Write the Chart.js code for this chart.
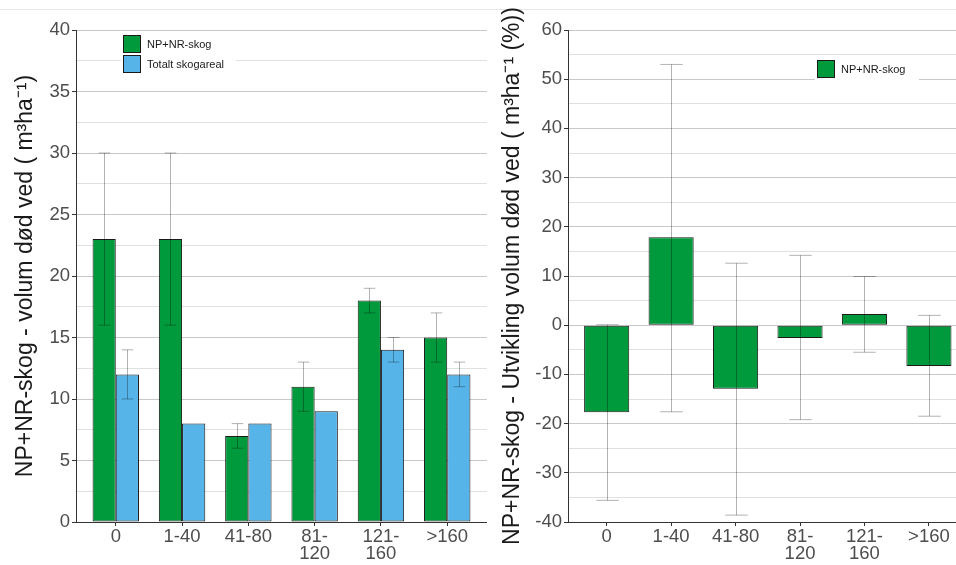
<!DOCTYPE html>
<html>
<head>
<meta charset="utf-8">
<script src="https://cdn.jsdelivr.net/npm/chart.js@4/dist/chart.umd.min.js"></script>
<style>
  html, body { margin:0; padding:0; background:#fff; }
  body { width:956px; height:565px; position:relative; overflow:hidden; font-family:"Liberation Sans", Arial, sans-serif; }
  #topline { position:absolute; left:0; top:9px; width:956px; height:1px; background:#e6e6e6; }
  #w1 { position:absolute; left:0; top:0; width:487px; height:565px; }
  #w2 { position:absolute; left:487px; top:0; width:469px; height:565px; }
</style>
</head>
<body>
<div id="topline"></div>
<div id="w1"><canvas id="c1"></canvas></div>
<div id="w2"><canvas id="c2"></canvas></div>
<script>
// ---- data ----
const tickLabels = ['0', '1-40', '41-80', ['81-', '120'], ['121-', '160'], '>160'];
const npnrVolume = [23, 23, 7, 11, 18, 15];
const npnrLow    = [16, 16, 6, 9, 17, 13];
const npnrHigh   = [30, 30, 8, 13, 19, 17];
const totalVolume = [12, 8, 8, 9, 14, 12];
const totalLow    = [10, null, null, null, 13, 11];
const totalHigh   = [14, null, null, null, 15, 13];
const changePct  = [-17.7, 17.9, -12.9, -2.6, 2.3, -8.3];
const changeLow  = [-35.6, -17.6, -38.6, -19.2, -5.5, -18.5];
const changeHigh = [0.1, 53.0, 12.6, 14.2, 9.9, 2.0];
const seriesNames = ['NP+NR-skog', 'Totalt skogareal'];

const GREEN = '#009a3c';
const BLUE = '#56b4e9';
const FONT = '"Liberation Sans", Arial, sans-serif';

const toXY = arr => arr.map((v, i) => ({ x: i, y: v }));

const errorBars = {
  id: 'errorBars',
  afterDatasetsDraw(chart) {
    const ctx = chart.ctx;
    const ys = chart.scales.y;
    chart.data.datasets.forEach((ds, di) => {
      if (!ds.errLow) return;
      const meta = chart.getDatasetMeta(di);
      meta.data.forEach((bar, i) => {
        const lo = ds.errLow[i], hi = ds.errHigh[i];
        if (lo == null || hi == null) return;
        const x = Math.round(bar.x) + 0.5, hw = bar.width / 4;
        const y1 = ys.getPixelForValue(lo), y2 = ys.getPixelForValue(hi);
        ctx.save();
        ctx.strokeStyle = 'rgba(0,0,0,0.3)';
        ctx.lineWidth = 1;
        ctx.beginPath();
        ctx.moveTo(x, y1); ctx.lineTo(x, y2);
        ctx.moveTo(x - hw, y1); ctx.lineTo(x + hw, y1);
        ctx.moveTo(x - hw, y2); ctx.lineTo(x + hw, y2);
        ctx.stroke();
        ctx.restore();
      });
    });
  }
};

const insetLegend = {
  id: 'insetLegend',
  afterDraw(chart, args, opts) {
    const ctx = chart.ctx;
    ctx.save();
    ctx.fillStyle = '#fff';
    ctx.fillRect(opts.bg[0], opts.bg[1], opts.bg[2], opts.bg[3]);
    chart.data.datasets.forEach((ds, i) => {
      const bx = opts.x, by = opts.y + i * 20;
      ctx.fillStyle = ds.backgroundColor;
      ctx.fillRect(bx, by, 18, 18);
      ctx.strokeStyle = '#1a1a1a';
      ctx.lineWidth = 1;
      ctx.strokeRect(bx + 0.5, by + 0.5, 17, 17);
      ctx.fillStyle = '#1a1a1a';
      ctx.font = '11px ' + FONT;
      ctx.textBaseline = 'middle';
      ctx.textAlign = 'left';
      ctx.fillText(ds.label, bx + 24, by + 9.5);
    });
    ctx.restore();
  }
};

function makeOptions(cfg) {
  return {
    responsive: true,
    maintainAspectRatio: false,
    animation: false,
    layout: { padding: { top: 30, right: 0, bottom: 0, left: 0 } },
    plugins: {
      legend: { display: false },
      tooltip: { enabled: false },
      insetLegend: cfg.legend
    },
    scales: {
      x: {
        type: 'linear',
        min: -0.6,
        max: cfg.xmax,
        offset: false,
        afterBuildTicks: axis => { axis.ticks = tickLabels.map((_, i) => ({ value: i })); },
        afterFit: s => { s.height = 43; },
        grid: { offset: false, drawOnChartArea: false, drawTicks: true, tickLength: 4, tickColor: '#333' },
        border: { display: true, color: '#333', width: 1 },
        ticks: {
          autoSkip: false, maxRotation: 0, minRotation: 0, padding: 2,
          color: '#4d4d4d',
          font: { family: FONT, size: 18.5, lineHeight: 0.95 },
          callback: (v) => tickLabels[Math.round(v)]
        }
      },
      y: {
        min: cfg.ymin,
        max: cfg.ymax,
        afterFit: s => { s.width = cfg.yWidth; },
        afterBuildTicks: axis => {
          const t = [];
          for (let v = cfg.ymin; v <= cfg.ymax + 1e-9; v += cfg.minor) t.push({ value: v });
          axis.ticks = t;
        },
        grid: {
          color: c => (Math.abs(c.tick.value % cfg.major) < 1e-6 ? '#c8c8c8' : '#e0e0e0'),
          lineWidth: 1,
          tickLength: 4,
          tickColor: c => (Math.abs(c.tick.value % cfg.major) < 1e-6 ? '#333' : 'rgba(0,0,0,0)')
        },
        border: { display: true, color: '#333', width: 1 },
        ticks: {
          padding: 2,
          color: '#4d4d4d',
          font: { family: FONT, size: 18.5 },
          autoSkip: false,
          callback: v => (Math.abs(v % cfg.major) < 1e-6 ? String(Math.round(v)) : '')
        },
        title: {
          display: true,
          text: cfg.title,
          color: '#1a1a1a',
          font: { family: FONT, size: 23, lineHeight: 1.2 },
          padding: { top: 12, bottom: 0 }
        }
      }
    }
  };
}

new Chart(document.getElementById('c1'), {
  type: 'bar',
  data: {
    datasets: [
      { label: seriesNames[0], data: toXY(npnrVolume), errLow: npnrLow, errHigh: npnrHigh,
        backgroundColor: GREEN, borderColor: '#1a1a1a', borderWidth: 1, borderSkipped: false,
        categoryPercentage: 0.7, barPercentage: 1.0 },
      { label: seriesNames[1], data: toXY(totalVolume), errLow: totalLow, errHigh: totalHigh,
        backgroundColor: BLUE, borderColor: '#1a1a1a', borderWidth: 1, borderSkipped: false,
        categoryPercentage: 0.7, barPercentage: 1.0 }
    ]
  },
  options: makeOptions({
    xmax: 5.6, ymin: 0, ymax: 40, minor: 2.5, major: 5, yWidth: 76,
    title: 'NP+NR-skog - volum død ved ( m³ha⁻¹)',
    legend: { x: 123, y: 35, bg: [121, 33, 115, 42] }
  }),
  plugins: [errorBars, insetLegend]
});

new Chart(document.getElementById('c2'), {
  type: 'bar',
  data: {
    datasets: [
      { label: seriesNames[0], data: toXY(changePct), errLow: changeLow, errHigh: changeHigh,
        backgroundColor: GREEN, borderColor: '#1a1a1a', borderWidth: 1, borderSkipped: false,
        categoryPercentage: 0.7, barPercentage: 1.0 }
    ]
  },
  options: makeOptions({
    xmax: 5.42, ymin: -40, ymax: 60, minor: 5, major: 10, yWidth: 81,
    title: 'NP+NR-skog - Utvikling volum død ved ( m³ha⁻¹ (%))',
    legend: { x: 330, y: 60, bg: [328, 57, 104, 24] }
  }),
  plugins: [errorBars, insetLegend]
});
</script>
</body>
</html>
